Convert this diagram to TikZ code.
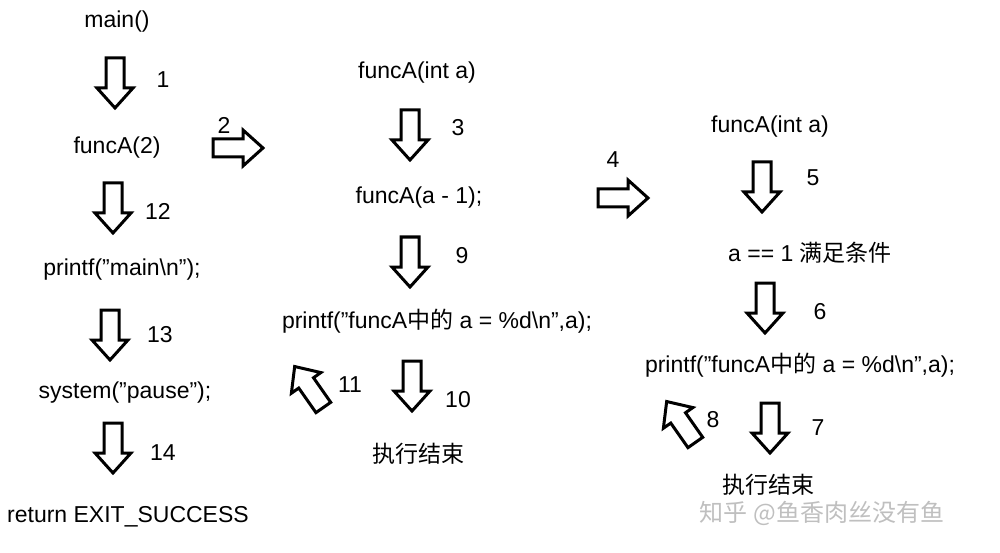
\documentclass[tikz,border=0pt]{standalone}
\usepackage{fontspec}
\setmainfont[Ligatures=NoCommon]{Liberation Sans}
\newfontfamily\cjk{Noto Sans CJK SC}
\newcommand\qq{\char"0022\relax}
\begin{document}
\begin{tikzpicture}[x=1pt,y=-1pt,
  t/.style={font=\fontsize{23}{26}\selectfont,inner sep=0pt},
  wm/.style={font=\fontsize{24}{26}\selectfont\cjk,text=black!25,inner sep=0pt},
  barrow/.pic={\draw[line width=3pt,line join=miter]
     (-9,-25)--(9,-25)--(9,5)--(18,5)--(0,25)--(-18,5)--(-9,5)--cycle;}]
\useasboundingbox (0,0) rectangle (1000,553);
\node[t] (m) at (117,22) {main()};
\pic at (115,83) {barrow}; \node[t] (n1) at (163,80) {1};
\node[t] (fa2) at (117,148) {funcA(2)};
\pic[rotate=90] at (238,148) {barrow}; \node[t] (n2) at (224,125) {2};
\pic at (113,208) {barrow}; \node[t] (n12) at (158,211) {12};
\node[t] (pm) at (122,270) {printf(\qq main\textbackslash n\qq);};
\pic at (110,335) {barrow}; \node[t] (n13) at (160,335) {13};
\node[t] (sp) at (125,393) {system(\qq pause\qq);};
\pic at (113,448) {barrow}; \node[t] (n14) at (163,453) {14};
\node[t] (ret) at (128,517) {return EXIT\_SUCCESS};
\node[t] (fb) at (417,73) {funcA(int a)};
\pic at (410,135) {barrow}; \node[t] (n3) at (458,128) {3};
\node[t] (fb1) at (419,198) {funcA(a - 1);};
\pic[rotate=90] at (623,198) {barrow}; \node[t] (n4) at (613,160) {4};
\pic at (410,262) {barrow}; \node[t] (n9) at (462,256) {9};
\node[t] (pb) at (437,321) {printf(\qq funcA{\cjk 中的} a = \%d\textbackslash n\qq,a);};
\pic[rotate=-145] at (309,387) {barrow}; \node[t] (n11) at (350,385) {11};
\pic at (412,386) {barrow}; \node[t] (n10) at (458,400) {10};
\node[t] (eb) at (418,454) {\cjk 执行结束};
\node[t] (fc) at (770,127) {funcA(int a)};
\pic at (762,187) {barrow}; \node[t] (n5) at (813,178) {5};
\node[t] (cond) at (810,253) {a == 1 {\cjk 满足条件}};
\pic at (765,308) {barrow}; \node[t] (n6) at (820,312) {6};
\node[t] (pc) at (800,365) {printf(\qq funcA{\cjk 中的} a = \%d\textbackslash n\qq,a);};
\pic[rotate=-145] at (681,422) {barrow}; \node[t] (n8) at (713,420) {8};
\pic at (770,428) {barrow}; \node[t] (n7) at (818,428) {7};
\node[t] (ec) at (768,485) {\cjk 执行结束};
\node[wm] (w) at (822,513) {知乎 @鱼香肉丝没有鱼};
\end{tikzpicture}
\end{document}
